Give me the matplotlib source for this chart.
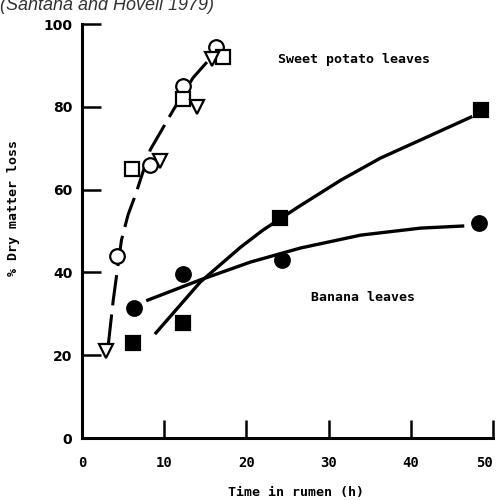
import matplotlib
matplotlib.use('Agg')
import matplotlib.pyplot as plt

# sweet potato leaves (open symbols)
sp_circ_t = [4.3, 8.3, 12.3, 16.3]
sp_circ_v = [44, 66, 85, 94.5]
sp_sq_t = [6.1, 12.3, 17.2]
sp_sq_v = [65, 82, 92]
sp_tri_t = [2.9, 9.5, 14.0, 15.8]
sp_tri_v = [21, 67, 80, 91.5]
# hand drawn dashed curve
sp_curve_t = [3.2, 3.8, 4.3, 4.8, 5.6, 6.5, 8.3, 11.1, 13.5, 15.2]
sp_curve_v = [22.5, 33.3, 40.6, 47.8, 53.9, 58.7, 69.6, 79.2, 87.0, 90.8]

# banana leaves (filled symbols)
bn_sq_t = [6.2, 12.3, 24.1, 48.5]
bn_sq_v = [23, 27.8, 53.1, 79.2]
bn_circ_t = [6.3, 12.3, 24.3, 48.3]
bn_circ_v = [31.4, 39.6, 43, 51.9]
bn_sq_curve_t = [9.0, 14.4, 19.3, 22.0, 26.3, 31.5, 36.3, 41.2, 47.3]
bn_sq_curve_v = [25.4, 37.7, 46.1, 50.2, 55.8, 62.3, 67.6, 72.0, 77.5]
bn_circ_curve_t = [8.0, 14.4, 20.5, 26.6, 33.9, 41.2, 46.3]
bn_circ_curve_v = [33.3, 38.2, 42.5, 45.9, 49.0, 50.7, 51.2]

xticks = [0, 10, 20, 30, 40, 50]
yticks = [0, 20, 40, 60, 80, 100]

mono = 'DejaVu Sans Mono'

fig = plt.figure(figsize=(5, 5), dpi=100)
ax = fig.add_axes([0.164, 0.124, 0.822, 0.828])

ax.plot(sp_curve_t, sp_curve_v, color='black', lw=2.2, ls=(0, (10, 3)),
        solid_capstyle='butt', zorder=2)
ax.plot(bn_sq_curve_t, bn_sq_curve_v, color='black', lw=2.4, zorder=2)
ax.plot(bn_circ_curve_t, bn_circ_curve_v, color='black', lw=2.4, zorder=2)

mk = dict(ls='none', markersize=10.5, markeredgewidth=1.6,
          markeredgecolor='black', zorder=3)
ax.plot(sp_circ_t, sp_circ_v, marker='o', markerfacecolor='white', **mk)
ax.plot(sp_sq_t, sp_sq_v, marker='s', markerfacecolor='white', **mk)
ax.plot(sp_tri_t, sp_tri_v, marker='v', markerfacecolor='white', **mk)
ax.plot(bn_sq_t, bn_sq_v, marker='s', markerfacecolor='black', **mk)
ax.plot(bn_circ_t, bn_circ_v, marker='o', markerfacecolor='black', **mk)

ax.text(23.9, 91.5, 'Sweet potato leaves', fontsize=9.5, family=mono,
        fontweight='bold', va='center', ha='left')
ax.text(27.8, 34, 'Banana leaves', fontsize=9.5, family=mono,
        fontweight='bold', va='center', ha='left')

ax.set_xlim(0, 50)
ax.set_ylim(0, 100)
ax.set_xticks(xticks)
ax.set_yticks(yticks)
xl = ax.set_xticklabels([str(v) for v in xticks], family=mono,
                        fontweight='bold', fontsize=10)
xl[-1].set_ha('right')
ax.set_yticklabels([str(v) for v in yticks], fontweight='bold', fontsize=10)
ax.tick_params(axis='x', direction='in', length=13, width=1.8, pad=13)
ax.tick_params(axis='y', direction='in', length=14, width=1.8, pad=7)

for s in ['top', 'right']:
    ax.spines[s].set_visible(False)
for s in ['left', 'bottom']:
    ax.spines[s].set_linewidth(2.2)
ax.spines['left'].set_capstyle('projecting')
ax.spines['bottom'].set_capstyle('projecting')

ax.set_xlabel('Time in rumen (h)', family=mono, fontweight='bold',
              fontsize=9.5, labelpad=6)
ax.xaxis.set_label_coords(0.52, -0.115)
ax.set_ylabel('% Dry matter loss', family=mono, fontweight='bold',
              fontsize=9.5)
ax.yaxis.set_label_coords(-0.15, 0.555)

fig.text(0.0, 0.979, '(Santana and Hovell 1979)', fontsize=13,
         style='italic', family='Liberation Sans', color='#333333',
         ha='left', va='baseline')

fig.savefig('out.png', dpi=100)
